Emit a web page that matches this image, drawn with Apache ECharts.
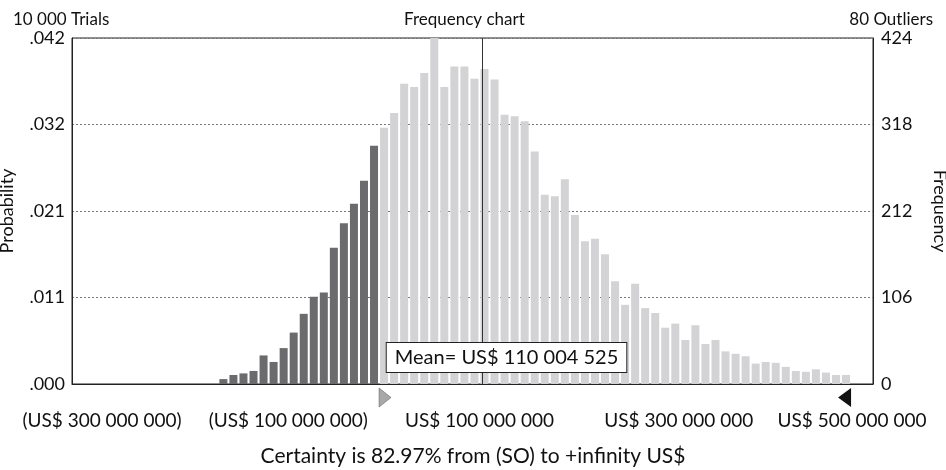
<!DOCTYPE html>
<html>
<head>
<meta charset="utf-8">
<script src="https://cdn.jsdelivr.net/npm/echarts@6/dist/echarts.min.js"></script>
<style>
  html, body { margin: 0; padding: 0; background: #fff; }
  #chart { width: 946px; height: 470px; }
</style>
</head>
<body>
<div id="chart"></div>
<script>
// histogram counts per bin (10 000 trials)
const counts = [
  6, 11, 13, 16, 35, 27, 44, 63, 86, 107, 112, 167, 197, 221, 249, 292,
  314, 332, 368, 364, 381, 424, 364, 389, 389, 374, 386, 373, 330, 328, 322, 285,
  232, 230, 251, 207, 175, 178, 159, 126, 97, 123, 93, 87, 69, 74, 54, 72,
  49, 54, 40, 37, 34, 25, 27, 26, 21, 16, 15, 18, 14, 11, 11
];
const firstBinCenter = -148.8e6;
const binWidth = 10.03e6;
const darkBins = 16; // bins left of the certainty range

const xTickLabels = ["(US$ 300 000 000)", "(US$ 100 000 000)", "US$ 100 000 000", "US$ 300 000 000", "US$ 500 000 000"];
const meanValue = 110004525;

const font = "Lato";
const textColor = "#111";

function spaced(n) {
  return String(Math.round(n)).replace(/\B(?=(\d{3})+(?!\d))/g, " ");
}

const barData = counts.map((c, i) => [firstBinCenter + i * binWidth, c]);

const chart = echarts.init(document.getElementById("chart"));
chart.setOption({
  animation: false,
  textStyle: { fontFamily: font },
  title: [
    { text: "10 000 Trials", left: 8, top: 6, textStyle: { fontSize: 17, fontWeight: "normal", color: textColor, fontFamily: font } },
    { text: "Frequency chart", left: 399, top: 6, textStyle: { fontSize: 17, fontWeight: "normal", color: textColor, fontFamily: font } },
    { text: "80 Outliers", right: 8, top: 6, textStyle: { fontSize: 17, fontWeight: "normal", color: textColor, fontFamily: font } },
    { text: "Certainty is 82.97% from (SO) to +infinity US$", left: "center", top: 441, textStyle: { fontSize: 21, fontWeight: "normal", color: textColor, fontFamily: font } },
  ],
  grid: {
    left: 72, right: 73, top: 38, bottom: 86,
    outerBoundsMode: "none",
    containLabel: false,
    show: true, borderColor: "#222", borderWidth: 1, backgroundColor: "#fff",
  },
  xAxis: {
    type: "value",
    min: -300e6,
    max: 500e6,
    interval: 200e6,
    axisLine: { show: true, lineStyle: { color: "#222" } },
    axisTick: { show: false },
    splitLine: { show: false },
    axisLabel: {
      margin: 27,
      fontSize: 19,
      color: textColor,
      fontFamily: font,
      formatter: (v, i) => "{l" + i + "|" + xTickLabels[i] + "}",
      rich: {
        l0: { fontSize: 19, fontFamily: font, color: textColor, padding: [0, 0, 0, 60] },
        l1: { fontSize: 19, fontFamily: font, color: textColor, padding: [0, 0, 0, 32] },
        l2: { fontSize: 19, fontFamily: font, color: textColor, padding: [0, 0, 0, 14] },
        l3: { fontSize: 19, fontFamily: font, color: textColor, padding: [0, 0, 0, 12] },
        l4: { fontSize: 19, fontFamily: font, color: textColor, padding: [0, 42, 0, 0] },
      },
    },
  },
  yAxis: [
    {
      type: "value",
      min: 0, max: 424, interval: 106,
      name: "Probability",
      nameLocation: "middle",
      nameGap: 56,
      nameTextStyle: { fontSize: 18, color: textColor, fontFamily: font },
      axisLine: { show: true, onZero: false, lineStyle: { color: "#222" } },
      axisTick: { show: false },
      axisLabel: {
        margin: 7, fontSize: 18, color: textColor, fontFamily: font,
        formatter: v => (v / 10000).toFixed(3).replace(/^0/, ""),
      },
      splitLine: { show: true, lineStyle: { color: "#777", type: [2, 2], width: 1 } },
    },
    {
      type: "value",
      position: "right",
      min: 0, max: 424, interval: 106,
      name: "Frequency",
      nameLocation: "middle",
      nameRotate: -90,
      nameGap: 58,
      nameTextStyle: { fontSize: 18, color: textColor, fontFamily: font },
      axisLine: { show: true, onZero: false, lineStyle: { color: "#222" } },
      axisTick: { show: false },
      axisLabel: { margin: 8, fontSize: 18, color: textColor, fontFamily: font },
      splitLine: { show: false },
    },
  ],
  series: [
    {
      type: "bar",
      yAxisIndex: 1,
      barWidth: 8,
      data: barData,
      itemStyle: {
        color: p => (p.dataIndex < darkBins ? "#6b6b6e" : "#d3d3d5"),
      },
      markLine: {
        silent: true,
        symbol: "none",
        lineStyle: { color: "#333", width: 1, type: "solid" },
        data: [{ xAxis: meanValue }],
        label: {
          position: "start",
          offset: [24, -46],
          formatter: () => "Mean= US$ " + spaced(meanValue),
          fontSize: 20,
          fontFamily: font,
          color: textColor,
          backgroundColor: "#fff",
          borderColor: "#222",
          borderWidth: 1,
          padding: [5, 8, 4, 8],
        },
      },
    },
  ],
});

// certainty grabbers under the axis
const lowEdge = firstBinCenter + (darkBins - 0.5) * binWidth;
const highEdge = firstBinCenter + (counts.length - 0.5) * binWidth;
const xl = chart.convertToPixel({ xAxisIndex: 0 }, lowEdge);
const xh = chart.convertToPixel({ xAxisIndex: 0 }, highEdge);
chart.setOption({
  graphic: [
    { type: "polygon", shape: { points: [[xl, 388], [xl + 12, 397.5], [xl, 407]] }, style: { fill: "#a8a8aa", stroke: "#555", lineWidth: 0.5 } },
    { type: "polygon", shape: { points: [[xh, 388], [xh - 13, 397.5], [xh, 407]] }, style: { fill: "#111" } },
  ],
});
</script>
</body>
</html>
